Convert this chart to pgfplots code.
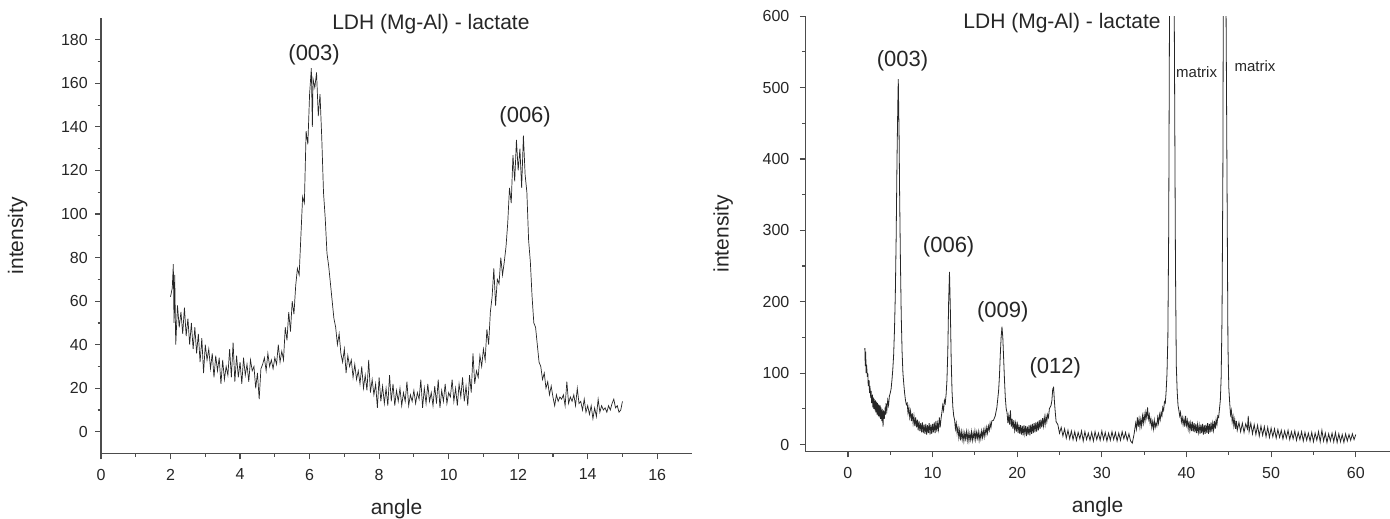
\documentclass[border=0pt]{standalone}
\usepackage{fontspec}
\setmainfont{Liberation Sans}
\usepackage{pgfplots}
\pgfplotsset{compat=1.18}

\pgfplotstableread{
x y
2.00 62
2.05 66
2.08 77
2.10 50
2.12 72
2.15 40
2.20 58
2.25 48
2.30 55
2.35 45
2.40 57
2.45 44
2.50 52
2.55 40
2.60 50
2.65 38
2.70 48
2.75 36
2.80 45
2.85 32
2.90 43
2.95 27
3.00 40
3.05 33
3.10 38
3.15 29
3.20 36
3.25 25
3.30 35
3.35 28
3.40 34
3.45 22
3.50 33
3.55 24
3.60 30
3.65 26
3.70 38
3.75 25
3.80 41
3.85 23
3.90 35
3.95 25
4.00 32
4.05 22
4.10 34
4.15 26
4.20 31
4.25 23
4.30 33
4.35 28
4.40 30
4.45 20
4.50 27
4.55 15
4.60 29
4.65 31
4.70 34
4.75 28
4.80 36
4.85 30
4.90 33
4.95 29
5.00 34
5.05 31
5.10 40
5.15 32
5.20 37
5.25 33
5.30 48
5.35 42
5.40 55
5.45 46
5.50 60
5.55 54
5.60 67
5.65 75
5.70 72
5.75 90
5.80 108
5.85 105
5.90 138
5.95 132
6.00 155
6.05 167
6.08 140
6.10 162
6.15 158
6.20 165
6.25 145
6.30 155
6.35 135
6.40 110
6.45 98
6.50 82
6.55 76
6.60 68
6.65 60
6.70 52
6.75 48
6.80 40
6.85 45
6.90 36
6.95 32
7.00 38
7.05 27
7.10 35
7.15 30
7.20 33
7.25 25
7.30 31
7.35 24
7.40 28
7.45 22
7.50 30
7.55 20
7.60 26
7.65 19
7.70 33
7.75 18
7.80 24
7.85 17
7.90 22
7.95 11
8.00 25
8.05 14
8.10 21
8.15 13
8.20 20
8.25 12
8.30 26
8.35 14
8.40 22
8.45 12
8.50 19
8.55 14
8.60 20
8.65 12
8.70 18
8.75 14
8.80 23
8.85 12
8.90 17
8.95 14
9.00 19
9.05 13
9.10 18
9.15 15
9.20 24
9.25 11
9.30 20
9.35 13
9.40 22
9.45 14
9.50 18
9.55 12
9.60 21
9.65 13
9.70 24
9.75 11
9.80 19
9.85 14
9.90 22
9.95 13
10.00 18
10.05 16
10.10 24
10.15 14
10.20 20
10.25 12
10.30 22
10.35 16
10.40 25
10.45 14
10.50 21
10.55 12
10.60 26
10.65 18
10.70 36
10.75 22
10.80 28
10.85 25
10.90 35
10.95 30
11.00 38
11.05 33
11.10 47
11.15 40
11.20 55
11.25 62
11.30 75
11.35 58
11.40 70
11.45 68
11.50 80
11.55 72
11.60 78
11.65 85
11.70 96
11.75 112
11.80 105
11.85 127
11.90 115
11.95 134
12.00 120
12.05 130
12.10 112
12.15 136
12.20 118
12.25 110
12.30 88
12.35 78
12.40 62
12.45 50
12.50 48
12.55 40
12.60 32
12.65 30
12.70 24
12.75 27
12.80 20
12.85 23
12.90 17
12.95 21
13.00 16
13.05 12
13.10 17
13.15 14
13.20 16
13.25 15
13.30 17
13.35 12
13.40 23
13.45 13
13.50 16
13.55 14
13.60 17
13.65 12
13.70 20
13.75 13
13.80 14
13.85 10
13.90 15
13.95 9
14.00 12
14.05 8
14.10 12
14.15 6
14.20 11
14.25 7
14.30 15
14.35 9
14.40 12
14.45 10
14.50 11
14.55 9
14.60 12
14.65 10
14.70 13
14.75 15
14.80 11
14.85 12
14.90 9
14.95 10
15.00 14
}\lefttable

\pgfplotstableread{
x y
2.00 135
2.05 110
2.10 130
2.15 100
2.20 112
2.30 95
2.35 100
2.40 82
2.50 90
2.55 72
2.60 82
2.70 65
2.75 75
2.80 58
2.90 70
2.95 52
3.00 66
3.05 50
3.10 64
3.20 48
3.25 62
3.30 45
3.40 60
3.45 42
3.50 58
3.60 40
3.65 56
3.70 38
3.80 55
3.85 36
3.90 52
4.00 33
4.05 50
4.10 40
4.15 25
4.20 48
4.30 36
4.40 52
4.45 42
4.50 58
4.60 48
4.70 62
4.80 55
4.90 68
5.00 72
5.10 78
5.20 90
5.30 105
5.40 125
5.50 160
5.60 210
5.70 290
5.80 400
5.90 480
5.95 512
6.00 470
6.05 430
6.10 360
6.20 260
6.30 180
6.40 130
6.50 100
6.60 85
6.70 72
6.80 62
6.90 56
7.0 58
7.1 44
7.2 52
7.3 38
7.4 47
7.5 33
7.6 44
7.7 30
7.8 40
7.9 26
8.0 38
8.1 24
8.2 35
8.3 20
8.4 33
8.5 19
8.6 30
8.7 17
8.8 31
8.9 16
9.0 28
9.1 15
9.2 29
9.3 14
9.4 27
9.5 16
9.6 30
9.7 14
9.8 28
9.9 15
10.0 29
10.1 17
10.2 31
10.3 16
10.4 33
10.5 18
10.6 30
10.7 21
10.8 38
10.9 24
11.0 36
11.1 45
11.2 55
11.3 48
11.4 62
11.5 58
11.6 70
11.7 90
11.8 130
11.9 200
12.0 242
12.1 190
12.2 120
12.3 75
12.4 52
12.5 40
12.6 35
12.7 22
12.8 30
12.9 16
13.0 24
13.1 10
13.2 20
13.3 6
13.4 18
13.5 7
13.6 17
13.7 5
13.8 16
13.9 8
14.0 18
14.1 6
14.2 17
14.3 5
14.4 15
14.5 7
14.6 18
14.7 6
14.8 16
14.9 8
15.0 19
15.1 7
15.2 17
15.3 9
15.4 18
15.5 6
15.6 16
15.7 8
15.8 19
15.9 10
16.0 20
16.1 11
16.2 22
16.3 14
16.4 24
16.5 16
16.6 26
16.7 20
16.8 30
16.9 24
17.0 33
17.2 34
17.4 40
17.6 52
17.8 75
17.9 95
18.0 125
18.1 150
18.2 165
18.3 150
18.4 120
18.5 90
18.6 65
18.7 50
18.8 45
18.9 30
19.0 40
19.1 28
19.2 48
19.3 25
19.4 36
19.5 22
19.6 34
19.7 20
19.8 30
19.9 18
20.0 32
20.1 16
20.2 28
20.3 15
20.4 27
20.5 14
20.6 26
20.7 13
20.8 27
20.9 15
21.0 26
21.1 12
21.2 25
21.3 14
21.4 27
21.5 13
21.6 28
21.7 15
21.8 29
21.9 16
22.0 30
22.1 17
22.2 31
22.3 18
22.4 32
22.5 20
22.6 34
22.7 22
22.8 35
22.9 24
23.0 37
23.1 26
23.2 38
23.3 28
23.4 40
23.5 32
23.6 42
23.7 38
23.8 50
24.0 55
24.1 62
24.2 78
24.3 80
24.4 60
24.5 45
24.6 32
24.8 28
25.0 16
25.2 24
25.4 12
25.6 22
25.8 9
26.0 20
26.2 8
26.4 19
26.6 7
26.8 18
27.0 6
27.2 17
27.4 8
27.6 19
27.8 5
28.0 18
28.2 7
28.4 16
28.6 6
28.8 17
29.0 5
29.2 18
29.4 7
29.6 16
29.8 6
30.0 19
30.2 7
30.4 17
30.6 5
30.8 16
31.0 6
31.2 18
31.4 7
31.6 17
31.8 5
32.0 16
32.2 6
32.4 18
32.6 8
32.8 17
33.0 6
33.2 15
33.4 5
33.6 2
33.8 14
34.0 30
34.1 22
34.2 38
34.3 25
34.4 36
34.5 24
34.6 35
34.7 26
34.8 40
34.9 30
35.0 42
35.1 33
35.2 45
35.3 38
35.4 52
35.5 36
35.6 42
35.7 30
35.8 36
35.9 24
36.0 32
36.1 22
36.2 34
36.3 24
36.4 30
36.5 26
36.6 38
36.7 30
36.8 42
36.9 35
37.0 45
37.1 40
37.2 52
37.3 48
37.4 60
37.5 58
37.6 75
37.7 100
37.8 150
37.9 300
38.0 620
38.55 620
38.7 250
38.8 110
38.9 75
39.0 55
39.1 48
39.2 40
39.3 45
39.4 32
39.5 38
39.6 28
39.7 36
39.8 25
39.9 40
40.0 27
40.1 34
40.2 22
40.3 33
40.4 20
40.5 30
40.6 19
40.7 32
40.8 18
40.9 30
41.0 17
41.1 29
41.2 16
41.3 28
41.4 17
41.5 27
41.6 15
41.7 28
41.8 16
41.9 29
42.0 14
42.1 27
42.2 15
42.3 28
42.4 16
42.5 30
42.6 15
42.7 29
42.8 17
42.9 31
43.0 18
43.1 30
43.2 20
43.3 33
43.4 22
43.5 35
43.6 28
43.7 40
43.8 38
43.9 50
44.0 62
44.1 95
44.2 180
44.3 380
44.35 620
44.67 620
44.8 350
44.9 140
45.0 80
45.1 60
45.2 42
45.3 48
45.4 32
45.5 40
45.6 26
45.7 35
45.8 22
45.9 33
46.0 20
46.2 31
46.4 18
46.6 30
46.8 17
47.0 29
47.2 22
47.3 40
47.4 18
47.6 30
47.8 15
48.0 28
48.2 14
48.4 27
48.6 12
48.8 26
49.0 13
49.2 25
49.4 11
49.6 24
49.8 10
50.0 23
50.2 11
50.4 22
50.6 9
50.8 21
51.0 10
51.2 20
51.4 8
51.6 19
51.8 9
52.0 20
52.2 7
52.4 18
52.6 8
52.8 19
53.0 6
53.2 17
53.4 7
53.6 18
53.8 5
54.0 17
54.2 6
54.4 16
54.6 5
54.8 17
55.0 4
55.2 16
55.4 6
55.6 18
55.8 4
56.0 20
56.2 5
56.4 16
56.6 3
56.8 15
57.0 5
57.2 16
57.4 4
57.6 17
57.8 3
58.0 15
58.2 4
58.4 14
58.6 3
58.8 15
59.0 5
59.2 14
59.4 6
59.6 15
59.8 7
60.0 14
}\righttable

\pgfplotsset{
  myax/.style={
    scale only axis,
    axis x line=bottom, axis y line=left,
    axis line style={-, black!70, line width=1.2pt},
    tick align=outside,
    major tick length=5.7pt, minor tick length=3.3pt,
    every tick/.style={black!70, line width=1.2pt},
    minor x tick num=1, minor y tick num=1,
    ticklabel style={font=\fontsize{16}{16}\selectfont, text=black!85},
    xticklabel style={yshift=-6pt},
    yticklabel style={xshift=-4pt},
    /pgf/number format/assume math mode=true,
    /pgf/number format/1000 sep={},
    every axis y label/.style={at={(axis description cs:-0.141,0.5)},rotate=90,anchor=center,
      font=\fontsize{21}{21}\selectfont, text=black!85},
    every axis x label/.style={at={(axis description cs:0.5,-0.127)},anchor=center,
      font=\fontsize{21}{21}\selectfont, text=black!85},
    xlabel={angle}, ylabel={intensity},
    clip mode=individual,
  },
}
\tikzset{
  pk/.style={font=\fontsize{22}{22}\selectfont, text=black!85, inner sep=0pt},
  ttl/.style={font=\fontsize{21}{21}\selectfont, text=black!85, inner sep=0pt},
  mtx/.style={font=\fontsize{15}{15}\selectfont, text=black!85, inner sep=0pt},
}

\begin{document}
\begin{tikzpicture}
\begin{axis}[myax,
  at={(101pt,65.4pt)}, anchor=south west,
  width=591pt, height=435.6pt,
  xmin=0, xmax=17, ymin=-10, ymax=190,
  xtick={0,2,...,16}, ytick={0,20,...,180},
]
\addplot[black!85, line width=0.7pt] table {\lefttable};
\node[ttl] at (axis cs:9.49,187) {LDH (Mg-Al) - lactate};
\node[pk] at (axis cs:6.13,173) {(003)};
\node[pk] at (axis cs:12.2,144.6) {(006)};
\end{axis}

\begin{axis}[myax,
  at={(805.6pt,67.3pt)}, anchor=south west,
  width=584pt, height=435.5pt,
  xmin=-5, xmax=64, ymin=-10, ymax=600,
  xtick={0,10,...,60}, ytick={0,100,...,600},
  yticklabel style={xshift=-3pt},
]
\addplot[black!85, line width=0.8pt] table {\righttable};
\node[ttl] at (axis cs:25.3,591) {LDH (Mg-Al) - lactate};
\node[pk] at (axis cs:6.44,538) {(003)};
\node[pk] at (axis cs:11.9,277) {(006)};
\node[pk] at (axis cs:18.3,186) {(009)};
\node[pk] at (axis cs:24.5,107) {(012)};
\node[mtx] at (axis cs:41.2,521) {matrix};
\node[mtx] at (axis cs:48.1,530) {matrix};
\end{axis}
\pgfresetboundingbox
\path[use as bounding box] (0pt,0pt) rectangle (1390pt,519pt);
\end{tikzpicture}
\end{document}
